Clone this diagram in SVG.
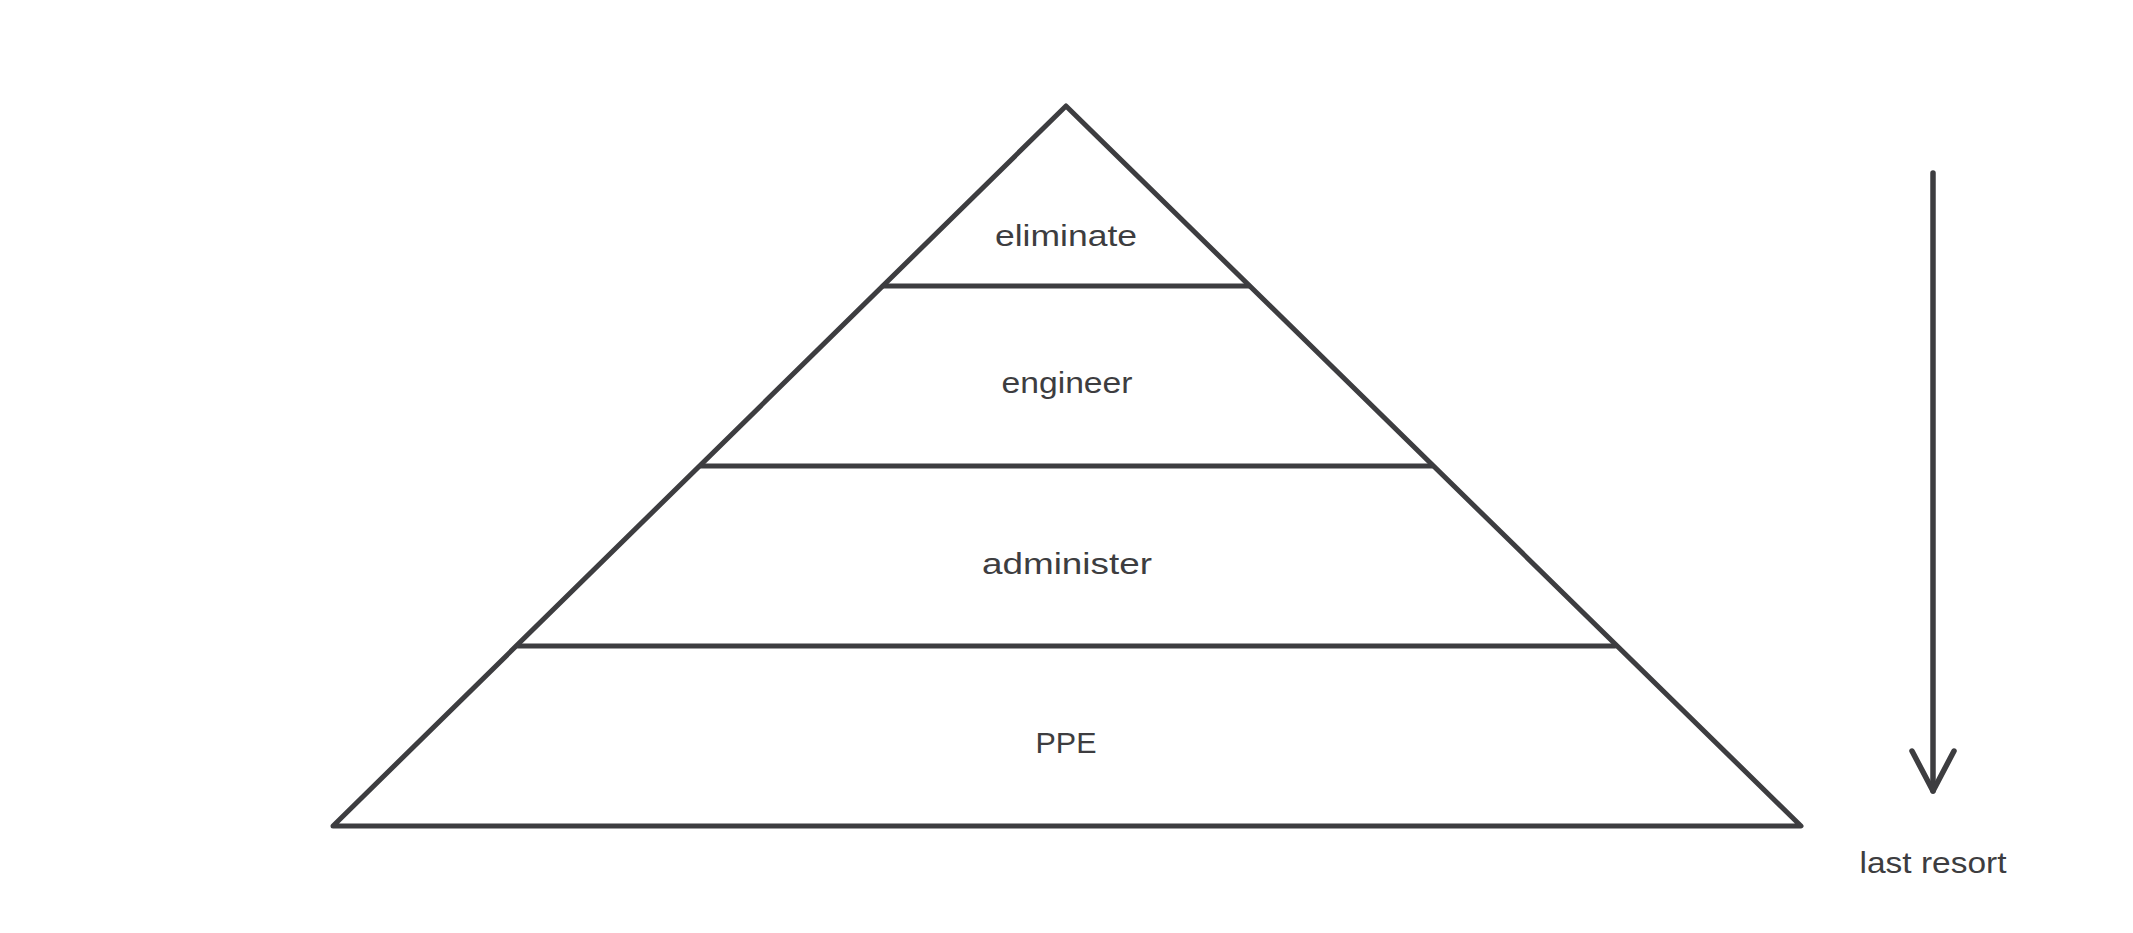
<svg xmlns="http://www.w3.org/2000/svg" width="2133" height="933" viewBox="0 0 2133 933">
  <style>
    .ln { fill: none; stroke: #3d3d40; stroke-width: 5; stroke-linecap: round; stroke-linejoin: round; }
    .arr { fill: none; stroke: #3d3d40; stroke-width: 5.5; stroke-linecap: round; stroke-linejoin: round; }
    .lbl { font-family: "Liberation Sans", "DejaVu Sans", sans-serif; font-size: 29px; fill: #3d3d40; text-anchor: middle; }
  </style>
  <rect width="2133" height="933" fill="#ffffff"/>
  <g id="pyramid">
    <polygon class="ln" points="1066,106 1801,826 333,826"/>
  </g>
  <g id="level-eliminate">
    <line class="ln" x1="883" y1="286" x2="1249" y2="286"/>
    <text class="lbl" x="1066" y="246" textLength="142" lengthAdjust="spacingAndGlyphs">eliminate</text>
  </g>
  <g id="level-engineer">
    <line class="ln" x1="701" y1="466" x2="1432" y2="466"/>
    <text class="lbl" x="1067" y="393" textLength="131" lengthAdjust="spacingAndGlyphs">engineer</text>
  </g>
  <g id="level-administer">
    <line class="ln" x1="518" y1="646" x2="1615" y2="646"/>
    <text class="lbl" x="1067" y="574" textLength="170" lengthAdjust="spacingAndGlyphs">administer</text>
  </g>
  <g id="level-ppe">
    <text class="lbl" x="1066" y="753" textLength="61" lengthAdjust="spacingAndGlyphs">PPE</text>
  </g>
  <g id="connectors">
    <line class="arr" x1="1933" y1="173" x2="1933" y2="791"/>
    <path class="arr" d="M1912,751 L1933,791 L1954,751"/>
  </g>
  <g id="label-last-resort">
    <text class="lbl" x="1933" y="873" textLength="147" lengthAdjust="spacingAndGlyphs">last resort</text>
  </g>
</svg>
